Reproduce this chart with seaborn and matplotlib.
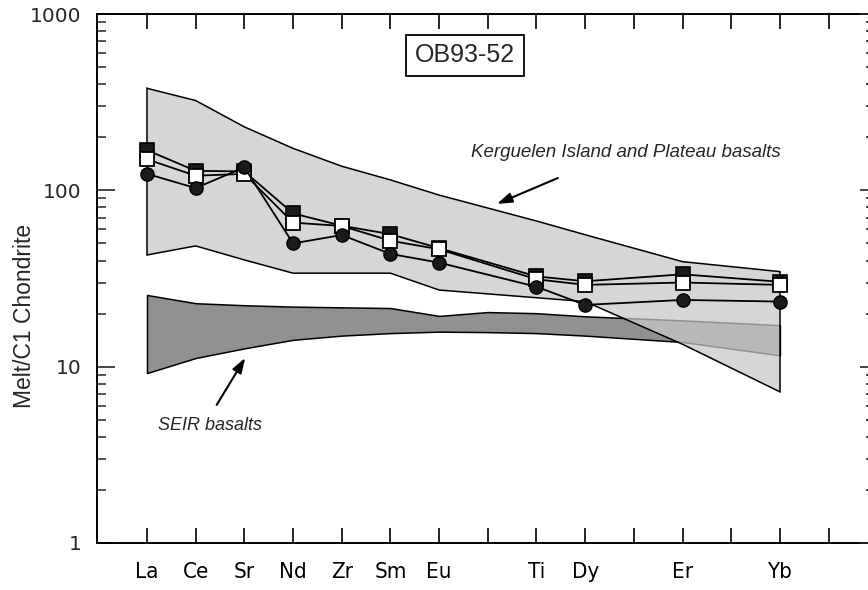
import matplotlib
matplotlib.use("Agg")
import matplotlib.pyplot as plt
import seaborn as sns
import pandas as pd
from matplotlib.ticker import FixedLocator, LogLocator, NullFormatter, FixedFormatter

# ---------------- data ----------------
tick_positions = list(range(15))
elements = ["La", "Ce", "Sr", "Nd", "Zr", "Sm", "Eu", "Ti", "Dy", "Er", "Yb"]
element_pos = [0, 1, 2, 3, 4, 5, 6, 8, 9, 11, 13]

filled_sq = [169, 129, 128, 74, 63, 56.4, 47, 32.5, 30.5, 33.4, 30.3]
open_sq = [150, 121, 124, 65.6, 62.8, 51.8, 46.3, 31.3, 29.1, 30.0, 29.1]
circles = [124, 103, 135, 50, 55.8, 43.6, 38.9, 28.4, 22.4, 23.9, 23.4]

kerg_upper = [379, 323, 229, 173, 137, 114.6, 94, 67, 56, 39.4, 34.6]
kerg_lower = [43, 48.4, 40.3, 33.9, 33.9, 33.9, 27.2, 24.6, 23.4, 13.4, 7.2]

seir_pos = [0, 1, 2, 3, 4, 5, 6, 7, 8, 9, 11, 13]
seir_upper = [25.5, 22.9, 22.3, 21.9, 21.7, 21.5, 19.4, 20.4, 20.1, 19.3, 18.3, 17.2]
seir_lower = [9.2, 11.2, 12.7, 14.2, 15.0, 15.5, 15.8, 15.7, 15.5, 15.0, 13.8, 11.6]

y_ticks = [1, 10, 100, 1000]
y_ticklabels = ["1", "10", "100", "1000"]

sample_name = "OB93-52"
kerg_label = "Kerguelen Island and Plateau basalts"
seir_label = "SEIR basalts"
y_label = "Melt/C1 Chondrite"

# ---------------- style ----------------
sns.set_style("ticks")
plt.rcParams["font.family"] = ["Liberation Sans", "DejaVu Sans"]

fig = plt.figure(figsize=(8.68, 5.90), dpi=100)
ax = fig.add_axes([97 / 868, 47 / 590, 772 / 868, 529 / 590])
ax.set_yscale("log")

# fields
ax.fill_between(seir_pos, seir_lower, seir_upper, facecolor="#919191",
                edgecolor="black", linewidth=1.1, zorder=1)
ax.fill_between(element_pos, kerg_lower, kerg_upper, facecolor="#c8c8c8",
                alpha=0.73, edgecolor="none", zorder=2)
ax.plot(element_pos, kerg_upper, color="black", lw=1.1, zorder=3)
ax.plot(element_pos, kerg_lower, color="black", lw=1.1, zorder=3)
ax.plot([element_pos[0]] * 2, [kerg_lower[0], kerg_upper[0]], color="black", lw=1.1, zorder=3)
ax.plot([element_pos[-1]] * 2, [kerg_lower[-1], kerg_upper[-1]], color="black", lw=1.1, zorder=3)

# series
df = pd.DataFrame({"pos": element_pos, "fsq": filled_sq, "osq": open_sq, "cir": circles})
sns.lineplot(data=df, x="pos", y="fsq", ax=ax, color="black", lw=1.3, marker="s",
             markersize=10, markerfacecolor="#1a1a1a", markeredgecolor="black",
             markeredgewidth=1.2, zorder=5, estimator=None)
sns.lineplot(data=df, x="pos", y="osq", ax=ax, color="black", lw=1.3, marker="s",
             markersize=10, markerfacecolor="white", markeredgecolor="black",
             markeredgewidth=1.3, zorder=6, estimator=None)
sns.lineplot(data=df, x="pos", y="cir", ax=ax, color="black", lw=1.3, marker="o",
             markersize=9.5, markerfacecolor="#1a1a1a", markeredgecolor="black",
             markeredgewidth=1.0, zorder=7, estimator=None)

# axes
ax.set_xlim(-1.027, 14.83)
ax.set_ylim(1, 1000)
labels_at = {p: e for p, e in zip(element_pos, elements)}
ax.xaxis.set_major_locator(FixedLocator(tick_positions))
ax.set_xticklabels([labels_at.get(p, "") for p in tick_positions],
                   fontfamily=["DejaVu Sans"], fontstretch="condensed", fontsize=16)
ax.tick_params(axis="x", direction="in", length=10.5, width=1.2, top=True,
               pad=14, colors="black")
ax.yaxis.set_major_locator(FixedLocator(y_ticks))
ax.yaxis.set_major_formatter(FixedFormatter(y_ticklabels))
ax.yaxis.set_minor_locator(LogLocator(base=10, subs=range(2, 10)))
ax.yaxis.set_minor_formatter(NullFormatter())
ax.tick_params(axis="y", which="major", direction="in", length=13, width=1.2, pad=11,
               labelsize=14.5, right=False)
ax.tick_params(axis="y", which="minor", direction="in", length=6.5, width=1.1, right=False)
for lab in ax.get_yticklabels():
    lab.set_fontfamily(["DejaVu Sans"])
for s in ax.spines.values():
    s.set_linewidth(1.4)
    s.set_color("black")
ax.set_xlabel("")
ax.set_ylabel(y_label, fontsize=16.5)
ax.yaxis.set_label_coords(-0.079, 0.43)

ax2 = ax.twinx()
ax2.set_yscale("log")
ax2.set_ylim(1, 1000)
ax2.yaxis.set_major_locator(FixedLocator(y_ticks))
ax2.yaxis.set_minor_locator(LogLocator(base=10, subs=range(2, 10)))
ax2.yaxis.set_major_formatter(NullFormatter())
ax2.yaxis.set_minor_formatter(NullFormatter())
ax2.tick_params(axis="y", which="major", direction="in", length=6.5, width=1.2)
ax2.tick_params(axis="y", which="minor", direction="in", length=2, width=1.2)
for s in ax2.spines.values():
    s.set_visible(False)

# annotations
ax.text(0.4767, 0.922, sample_name, transform=ax.transAxes, ha="center", va="center",
        fontsize=18, bbox=dict(boxstyle="square,pad=0.35", facecolor="white",
                               edgecolor="black", linewidth=1.3), zorder=10)
ax.text(0.6846, 0.739, kerg_label, transform=ax.transAxes, ha="center", va="center",
        fontsize=13.5, style="italic", zorder=10)
ax.annotate("", xy=(0.518, 0.641), xytext=(0.597, 0.690), xycoords="axes fraction",
            textcoords="axes fraction",
            arrowprops=dict(arrowstyle="-|>,head_length=0.9,head_width=0.3",
                            color="black", lw=1.5, shrinkA=0, shrinkB=0), zorder=10)
ax.text(0.146, 0.223, seir_label, transform=ax.transAxes, ha="center", va="center",
        fontsize=13, style="italic", zorder=10)
ax.annotate("", xy=(0.192, 0.350), xytext=(0.155, 0.261), xycoords="axes fraction",
            textcoords="axes fraction",
            arrowprops=dict(arrowstyle="-|>,head_length=0.9,head_width=0.3",
                            color="black", lw=1.5, shrinkA=0, shrinkB=0), zorder=10)

fig.savefig("out.png", dpi=100, facecolor="white")
